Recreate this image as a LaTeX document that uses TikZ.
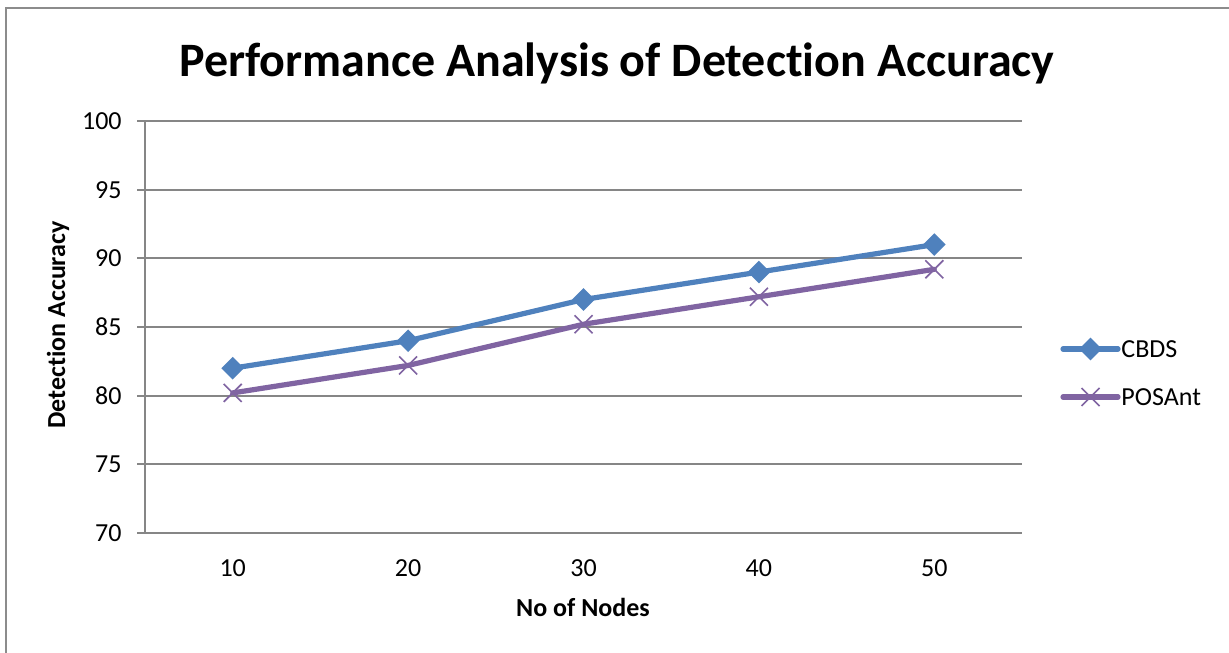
\documentclass[tikz,border=0pt]{standalone}
\usepackage{fontspec}
\setmainfont{Carlito}[RawFeature={-liga;-clig;-calt;-dlig}]
\usepackage{xcolor}
\usetikzlibrary{calc,shapes.geometric}
\definecolor{cbdsblue}{HTML}{4F81BD}
\definecolor{posantpurple}{HTML}{8064A2}
\definecolor{gridgray}{HTML}{868686}

\tikzset{
  gridline/.style={gridgray, line width=1pt},
  ticklabel/.style={font=\fontsize{13}{15}\selectfont, inner sep=0pt},
  axislabel/.style={font=\bfseries\fontsize{13}{15}\selectfont, inner sep=0pt},
  cbdsline/.style={cbdsblue, line width=2.6pt, line join=round, line cap=round},
  posantline/.style={posantpurple, line width=2.6pt, line join=round, line cap=round},
  cbdsmark/.style={diamond, fill=cbdsblue, inner sep=0pt, minimum width=11.5pt, minimum height=11.5pt},
  posantmark/.style={posantpurple, line width=0.8pt},
}

\begin{document}
\begin{tikzpicture}[x=0.5pt, y=0.5pt]
  \useasboundingbox (0,0) rectangle (1229,652);
  \fill[white] (0,0) rectangle (1229,652);
  % chart frame
  \draw[gridgray!95, line width=1pt] (5.5,-20) rectangle (1260,644);
  % title
  \node[font=\bfseries\fontsize{24}{29}\selectfont, inner sep=0pt, anchor=base] (title) at (617,575) {Performance Analysis of Detection Accuracy};

  \begin{scope}[shift={(145,119)}, x=87.7pt, y=6.8667pt]
    % horizontal grid with ticks
    \draw[gridline] ([xshift=-4pt]0,0) -- (5,0);
    \draw[gridline] ([xshift=-4pt]0,5) -- (5,5);
    \draw[gridline] ([xshift=-4pt]0,10) -- (5,10);
    \draw[gridline] ([xshift=-4pt]0,15) -- (5,15);
    \draw[gridline] ([xshift=-4pt]0,20) -- (5,20);
    \draw[gridline] ([xshift=-4pt]0,25) -- (5,25);
    \draw[gridline] ([xshift=-4pt]0,30) -- (5,30);
    \draw[gridline] (0,0) -- (0,30);
    % y tick labels
    \node[ticklabel, anchor=east] (y70) at ([xshift=-11.5pt]0,0) {70};
    \node[ticklabel, anchor=east] (y75) at ([xshift=-11.5pt]0,5) {75};
    \node[ticklabel, anchor=east] (y80) at ([xshift=-11.5pt]0,10) {80};
    \node[ticklabel, anchor=east] (y85) at ([xshift=-11.5pt]0,15) {85};
    \node[ticklabel, anchor=east] (y90) at ([xshift=-11.5pt]0,20) {90};
    \node[ticklabel, anchor=east] (y95) at ([xshift=-11.5pt]0,25) {95};
    \node[ticklabel, anchor=east] (y100) at ([xshift=-11.5pt]0,30) {100};
    % x tick labels
    \node[ticklabel] (x10) at ([yshift=-17.5pt]0.5,0) {10};
    \node[ticklabel] (x20) at ([yshift=-17.5pt]1.5,0) {20};
    \node[ticklabel] (x30) at ([yshift=-17.5pt]2.5,0) {30};
    \node[ticklabel] (x40) at ([yshift=-17.5pt]3.5,0) {40};
    \node[ticklabel] (x50) at ([yshift=-17.5pt]4.5,0) {50};

    % data points
    \coordinate (cbds10) at (0.5,12);
    \coordinate (cbds20) at (1.5,14);
    \coordinate (cbds30) at (2.5,17);
    \coordinate (cbds40) at (3.5,19);
    \coordinate (cbds50) at (4.5,21);
    \coordinate (posant10) at (0.5,10.2);
    \coordinate (posant20) at (1.5,12.2);
    \coordinate (posant30) at (2.5,15.2);
    \coordinate (posant40) at (3.5,17.2);
    \coordinate (posant50) at (4.5,19.2);

    \draw[cbdsline] (cbds10) -- (cbds20) -- (cbds30) -- (cbds40) -- (cbds50);
    \draw[posantline] (posant10) -- (posant20) -- (posant30) -- (posant40) -- (posant50);

    \node[cbdsmark] at (cbds10) {};
    \node[cbdsmark] at (cbds20) {};
    \node[cbdsmark] at (cbds30) {};
    \node[cbdsmark] at (cbds40) {};
    \node[cbdsmark] at (cbds50) {};
    \foreach \p in {posant10,posant20,posant30,posant40,posant50}
      \draw[posantmark] ([shift={(-4.5pt,-4.5pt)}]\p) -- ([shift={(4.5pt,4.5pt)}]\p)
                        ([shift={(-4.5pt,4.5pt)}]\p) -- ([shift={(4.5pt,-4.5pt)}]\p);
  \end{scope}

  % axis titles
  \node[axislabel, anchor=base, rotate=90] (ylabel) at (65,327) {Detection Accuracy};
  \node[axislabel] (xlabel) at (583,45) {No of Nodes};

  % legend
  \coordinate (legA) at (1063,303);
  \coordinate (legB) at (1118,303);
  \coordinate (legC) at (1063,255);
  \coordinate (legD) at (1118,255);
  \draw[cbdsline] (legA) -- (legB);
  \node[cbdsmark] at ($(legA)!0.5!(legB)$) {};
  \node[ticklabel, anchor=west] (cbdstext) at (1121,303) {CBDS};
  \draw[posantline] (legC) -- (legD);
  \draw[posantmark] ($(legC)!0.5!(legD)+(-9,-9)$) -- ($(legC)!0.5!(legD)+(9,9)$)
                    ($(legC)!0.5!(legD)+(-9,9)$) -- ($(legC)!0.5!(legD)+(9,-9)$);
  \node[ticklabel, anchor=west] (posanttext) at (1121,255) {POSAnt};
\end{tikzpicture}
\end{document}
